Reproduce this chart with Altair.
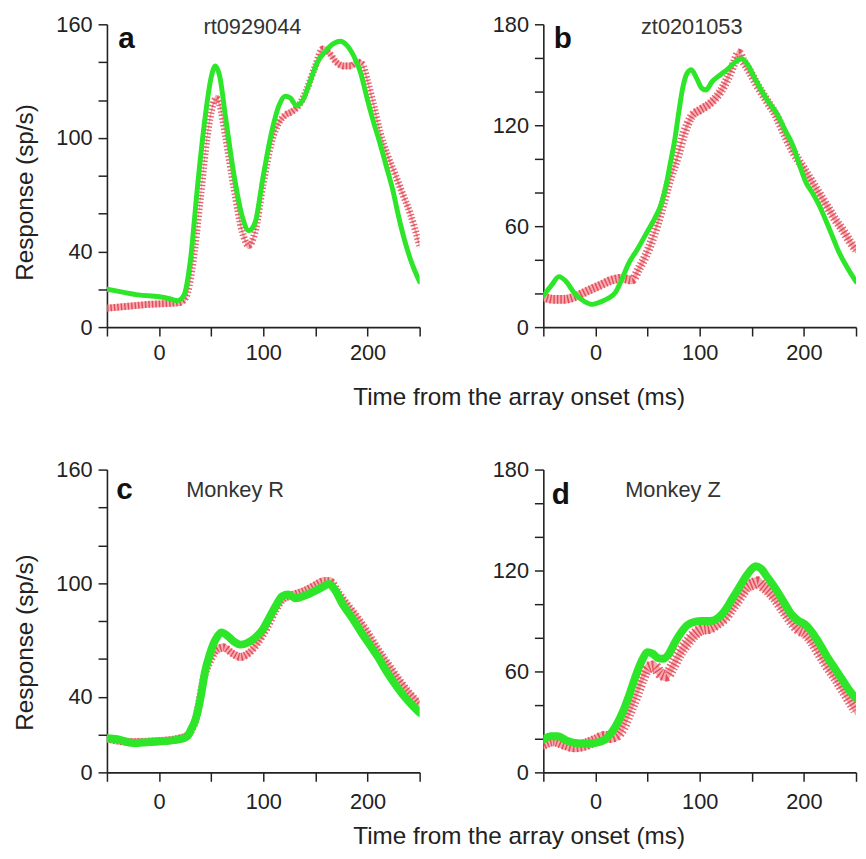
import altair as alt
import pandas as pd

FONT = "Liberation Sans"

# ---------------- data ----------------
# panel a : rt0929044
a_green_t = [-50, -35, -20, 0, 10, 18, 24, 30, 37, 44, 50, 54, 58, 64, 72, 80, 86, 92, 100, 108, 115, 121, 126, 132, 138, 145, 152, 160, 168, 174, 180, 187, 193, 200, 206, 212, 218, 224, 230, 236, 243, 250]
a_green_v = [20, 18.5, 17, 16, 15, 14, 17, 35, 75, 110, 132, 138, 133, 110, 80, 58, 51, 55, 80, 103, 117, 122, 121, 117, 120, 130, 140, 146, 150, 151, 149, 143, 135, 120, 108, 97, 85, 73, 58, 45, 33, 24]
a_red_t = [-50, -30, -10, 10, 20, 26, 32, 40, 46, 52, 55, 58, 64, 72, 80, 86, 92, 100, 108, 115, 121, 128, 135, 142, 150, 157, 163, 170, 177, 184, 190, 195, 200, 206, 212, 219, 227, 234, 241, 250]
a_red_v = [10, 11, 12, 12.5, 13, 16, 32, 70, 100, 118, 121, 118, 100, 73, 50, 43, 50, 76, 98, 108, 112, 114, 118, 126, 138, 147, 145, 140, 138, 138, 140, 139, 130, 117, 103, 91, 80, 70, 60, 43]
a_red_err = 1.8

# panel b : zt0201053
b_green_t = [-50, -42, -35, -28, -20, -10, -3, 5, 12, 19, 25, 32, 40, 50, 58, 63, 68, 72, 76, 80, 84, 88, 92, 97, 102, 106, 112, 120, 128, 135, 140, 145, 152, 158, 166, 174, 182, 190, 196, 202, 208, 215, 222, 228, 234, 241, 250]
b_green_v = [18.5, 25, 30, 27, 20, 15, 13.5, 15, 17, 20.5, 28, 38, 46, 57, 66, 73, 85, 98, 111, 128, 143, 151, 153, 148, 142, 141, 146, 150, 154, 158, 159.5, 157, 149, 142, 134, 127, 117, 107, 96, 86, 80, 72, 62, 53, 44, 36, 27]
b_red_t = [-50, -40, -30, -20, -6, 5, 16, 25, 35, 42, 48, 55, 63, 70, 79, 85, 92, 100, 108, 115, 120, 127, 133, 137.6, 142, 148, 155, 165, 174, 182, 190, 198, 206, 214, 222, 230, 238, 244, 250]
b_red_v = [18, 16.5, 16.5, 18, 22, 25, 28, 29, 28, 35, 42, 53, 69, 85, 102, 115, 125, 129, 132, 136, 140, 148, 157, 163, 158, 152, 144, 134, 125, 114, 104, 96, 88, 80, 72, 64, 57, 51, 46]
b_red_err = 2.6

# panel c : Monkey R
c_green_t = [-50, -40, -25, -10, 5, 20, 27, 31, 35, 40, 44, 49, 54, 60, 66, 72, 78, 85, 92, 100, 106, 112, 118, 124, 131, 140, 150, 157, 163, 168, 176, 186, 194, 202, 210, 218, 226, 234, 242, 250]
c_green_v = [18, 17.5, 15.5, 16, 16.5, 17.5, 19, 23, 28, 40, 53, 63, 70, 74, 72, 69, 67.5, 68.5, 71, 76, 82, 88, 93, 94, 92, 93.5, 96, 98, 99.5, 97, 89, 81, 74, 67.5, 61, 53.5, 47, 41, 36, 31.5]
c_red_t = [-50, -25, 0, 20, 27, 35, 44, 50, 56, 62, 70, 78, 86, 94, 104, 112, 120, 130, 140, 150, 158, 164, 172, 180, 190, 200, 210, 220, 230, 240, 250]
c_red_v = [18, 16, 16.5, 18, 19.5, 28, 52, 60, 65, 66, 63, 61, 63, 68, 77, 86, 92, 94, 96, 99, 101, 101, 95, 89, 82, 74, 65, 57, 49, 42, 36]
c_red_err = 2.2

# panel d : Monkey Z
d_green_t = [-50, -43, -36, -28, -20, -10, 0, 8, 14, 20, 27, 33, 39, 45, 50, 55, 60, 65, 70, 76, 82, 88, 95, 102, 110, 118, 124, 131, 138, 145, 150, 154, 159, 165, 172, 180, 188, 195, 201, 207, 214, 222, 230, 238, 244, 250]
d_green_v = [19.5, 21.5, 21.5, 19, 17.5, 17, 17.5, 19, 22.5, 28, 37, 47, 58, 67, 71.5, 70.5, 68, 67.5, 70, 77, 83, 87.5, 89.5, 90, 90, 92, 96, 103, 110, 117, 121, 122.5, 121, 116, 110, 102, 94, 90, 88, 84, 77.5, 69, 61.5, 54, 48.5, 44]
d_red_t = [-50, -40, -30, -20, -10, 0, 8, 14, 20, 27, 33, 39, 45, 50, 56, 62, 68, 74, 80, 88, 95, 102, 110, 118, 124, 131, 138, 145, 151, 156, 160, 166, 172, 180, 188, 195, 201, 208, 214, 222, 230, 238, 244, 250]
d_red_v = [17, 19, 17, 15.5, 16.5, 19, 21, 21, 22, 28, 37, 46, 56, 62, 63, 59, 57.5, 63, 70, 77, 82, 85, 86, 89, 92, 98, 104, 110, 112, 113, 111, 108, 104, 97, 90, 85, 83, 78, 72, 64, 57, 49, 43, 37]
d_red_err = 3.5

x_ticks = [-50, 0, 50, 100, 150, 200, 250]
x_labels = [0, 100, 200]
ticks_160 = [0, 20, 40, 60, 80, 100, 120, 140, 160]
labels_160 = [0, 40, 100, 160]
ticks_180 = [0, 20, 40, 60, 80, 100, 120, 140, 160, 180]
labels_180 = [0, 60, 120, 180]

X_TITLE = "Time from the array onset (ms)"
Y_TITLE = "Response (sp/s)"

W, H = 316, 306


def panel(green_t, green_v, red_t, red_v, red_err, ymax, yticks, ylabels,
          letter, name, letter_pos, name_pos, green_w, red_w,
          show_ytitle, show_xtitle, ytitle_y, xtitle_y, xlabel_pad):
    xaxis_kw = dict(values=x_ticks, labelExpr=f"indexof({x_labels}, datum.value) >= 0 ? datum.label : ''",
                    tickSize=9, labelPadding=xlabel_pad, labelOverlap=False, labelFlush=False)
    if show_xtitle:
        xaxis_kw.update(title=X_TITLE, titleX=416, titleY=xtitle_y, titleAlign="center",
                        titleBaseline="alphabetic")
    else:
        xaxis_kw.update(title=None)
    yaxis_kw = dict(values=yticks, labelExpr=f"indexof({ylabels}, datum.value) >= 0 ? datum.label : ''",
                    tickSize=9, labelPadding=6, labelOverlap=False, labelFlush=False)
    if show_ytitle:
        yaxis_kw.update(title=Y_TITLE, titleX=-74.8, titleY=ytitle_y, titleAngle=270,
                        titleAlign="center", titleBaseline="alphabetic")
    else:
        yaxis_kw.update(title=None)

    xs = alt.Scale(domain=[-50, 250], nice=False, zero=False)
    ys = alt.Scale(domain=[0, ymax], nice=False, zero=False)

    def X():
        return alt.X("t:Q", scale=xs, axis=alt.Axis(**xaxis_kw))

    def Y(f):
        return alt.Y(f, scale=ys, axis=alt.Axis(**yaxis_kw))

    red_df = pd.DataFrame({"t": red_t, "v": red_v})
    green_df = pd.DataFrame({"t": green_t, "v": green_v})

    band = alt.Chart(red_df).transform_calculate(
        lo=f"datum.v - {red_err}", hi=f"datum.v + {red_err}"
    ).mark_area(color="#f6a3a8", opacity=0.9, interpolate="monotone", clip=True).encode(
        x=X(), y=Y("lo:Q"), y2="hi:Q")
    hatch = alt.Chart(red_df).mark_line(
        color="#d92638", strokeWidth=red_w, strokeDash=[1.5, 2], opacity=0.7,
        interpolate="monotone", clip=True).encode(x=X(), y=Y("v:Q"))
    green = alt.Chart(green_df).mark_line(
        color="#2de62a", strokeWidth=green_w, interpolate="monotone", clip=True,
        strokeCap="round", strokeJoin="round").encode(x=X(), y=Y("v:Q"))
    let = alt.Chart(pd.DataFrame({"s": [letter]})).mark_text(
        font=FONT, fontSize=30, fontWeight="bold", align="left", baseline="alphabetic",
        color="#111111").encode(text="s:N", x=alt.value(letter_pos[0]), y=alt.value(letter_pos[1]))
    nm = alt.Chart(pd.DataFrame({"s": [name]})).mark_text(
        font=FONT, fontSize=22, align="center", baseline="alphabetic",
        color="#333333").encode(text="s:N", x=alt.value(name_pos[0]), y=alt.value(name_pos[1]))
    return alt.layer(band, hatch, green, let, nm).properties(width=W, height=H)


pa = panel(a_green_t, a_green_v, a_red_t, a_red_v, a_red_err, 160, ticks_160, labels_160,
           "a", "rt0929044", (11.5, 24.3), (147, 9.3), 5, 7, True, True, 169.5, 78.5, 7)
pb = panel(b_green_t, b_green_v, b_red_t, b_red_v, b_red_err, 180, ticks_180, labels_180,
           "b", "zt0201053", (10.5, 24.3), (150, 9.3), 5, 9, False, False, 0, 0, 7)
pc = panel(c_green_t, c_green_v, c_red_t, c_red_v, c_red_err, 160, ticks_160, labels_160,
           "c", "Monkey R", (9.5, 29.3), (129.5, 27.7), 8, 8, True, True, 174.3, 72, 11)
pd_ = panel(d_green_t, d_green_v, d_red_t, d_red_v, d_red_err, 180, ticks_180, labels_180,
            "d", "Monkey Z", (8.5, 34.3), (131, 27.7), 8, 12, False, False, 0, 0, 11)

chart = alt.concat(pa, pb, pc, pd_, columns=2, spacing={"row": 144, "column": 125},
                   bounds="flush").properties(
    padding={"left": 4, "top": 0, "right": 0, "bottom": 0}
).configure_view(stroke="transparent").configure_axis(
    grid=False, domainColor="#222222", domainWidth=1.6, tickColor="#222222", tickWidth=1.5,
    labelFont=FONT, labelFontSize=22, labelColor="#222222",
    titleFont=FONT, titleFontSize=24.5, titleColor="#222222", titleFontWeight="normal"
)

chart.save("out.html", embed_options={"renderer": "svg", "actions": False})
